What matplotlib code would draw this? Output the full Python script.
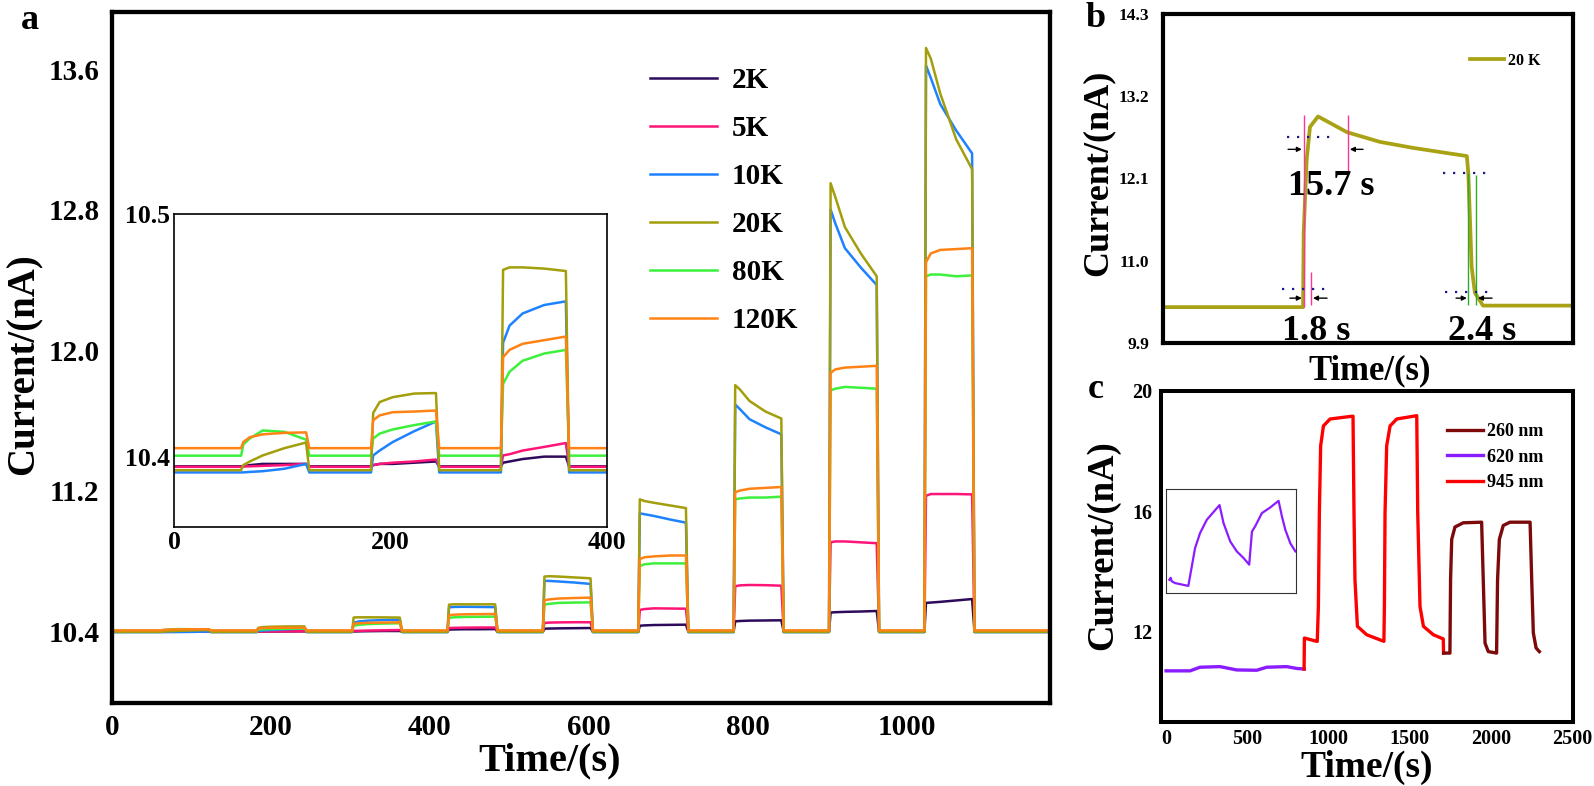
import matplotlib
matplotlib.use('Agg')
import matplotlib.pyplot as plt

plt.rcParams['font.family'] = ['Liberation Serif', 'DejaVu Serif']
plt.rcParams['font.weight'] = 'bold'
plt.rcParams['axes.labelweight'] = 'bold'

W, H = 1594, 786

# ---------------- panel a data ----------------
labels_a = ['2K', '5K', '10K', '20K', '80K', '120K']
colors_a = ['#2d0b5a', '#ff1478', '#1e82ff', '#a39e0c', '#3cf03c', '#ff8214']
t_on = [62, 182, 302, 422, 542, 662, 782, 902, 1022]
t_off = [122, 242, 362, 482, 602, 722, 842, 962, 1082]
t_last = 1180
sample_dt = [2, 8, 20, 40, 60]          # seconds after light on

base_2k, base_5k, base_10k = 10.396, 10.3958, 10.3935
base_20k, base_80k, base_120k = 10.3944, 10.4004, 10.4035

pulses_2k = [
    [10.396, 10.3965, 10.397, 10.397, 10.397],
    [10.3965, 10.397, 10.397, 10.3975, 10.398],
    [10.3975, 10.398, 10.399, 10.400, 10.400],
    [10.408, 10.409, 10.41, 10.41, 10.411],
    [10.413, 10.414, 10.415, 10.416, 10.417],
    [10.43, 10.432, 10.434, 10.435, 10.436],
    [10.455, 10.457, 10.459, 10.46, 10.461],
    [10.505, 10.507, 10.509, 10.511, 10.514],
    [10.56, 10.562, 10.566, 10.574, 10.582],
]
pulses_5k = [
    [10.396, 10.396, 10.3962, 10.3965, 10.397],
    [10.3965, 10.397, 10.3975, 10.398, 10.3988],
    [10.4005, 10.401, 10.4025, 10.404, 10.4056],
    [10.417, 10.418, 10.419, 10.42, 10.42],
    [10.446, 10.448, 10.449, 10.45, 10.45],
    [10.52, 10.525, 10.529, 10.528, 10.527],
    [10.655, 10.66, 10.662, 10.661, 10.658],
    [10.905, 10.91, 10.91, 10.905, 10.9],
    [11.17, 11.18, 11.18, 11.18, 11.178],
]
pulses_10k = [
    [10.3935, 10.3937, 10.394, 10.395, 10.397],
    [10.4005, 10.4025, 10.406, 10.4105, 10.4145],
    [10.447, 10.454, 10.459, 10.4625, 10.464],
    [10.535, 10.537, 10.538, 10.537, 10.536],
    [10.686, 10.685, 10.682, 10.676, 10.668],
    [11.07, 11.065, 11.055, 11.035, 11.017],
    [11.69, 11.663, 11.606, 11.56, 11.52],
    [12.8, 12.72, 12.58, 12.47, 12.37],
    [13.62, 13.55, 13.40, 13.25, 13.12],
]
pulses_20k = [
    [10.3965, 10.398, 10.4005, 10.4035, 10.4058],
    [10.418, 10.4225, 10.4245, 10.426, 10.4262],
    [10.477, 10.478, 10.478, 10.4775, 10.4765],
    [10.55, 10.552, 10.552, 10.552, 10.552],
    [10.71, 10.712, 10.71, 10.705, 10.7],
    [11.15, 11.14, 11.13, 11.115, 11.10],
    [11.8, 11.775, 11.71, 11.65, 11.61],
    [12.95, 12.87, 12.7, 12.55, 12.42],
    [13.72, 13.66, 13.46, 13.2, 13.03],
]
pulses_80k = [
    [10.405, 10.4075, 10.4108, 10.4102, 10.407],
    [10.4075, 10.4095, 10.4112, 10.413, 10.4145],
    [10.430, 10.435, 10.4395, 10.4425, 10.444],
    [10.475, 10.478, 10.48, 10.481, 10.482],
    [10.55, 10.555, 10.56, 10.562, 10.563],
    [10.77, 10.78, 10.785, 10.785, 10.785],
    [11.15, 11.155, 11.16, 11.16, 11.165],
    [11.77, 11.78, 11.79, 11.785, 11.78],
    [12.42, 12.43, 12.43, 12.42, 12.425],
]
pulses_120k = [
    [10.406, 10.408, 10.4092, 10.4098, 10.41],
    [10.415, 10.417, 10.4183, 10.4186, 10.419],
    [10.441, 10.444, 10.4465, 10.448, 10.4495],
    [10.49, 10.493, 10.495, 10.496, 10.497],
    [10.575, 10.58, 10.585, 10.588, 10.59],
    [10.81, 10.82, 10.825, 10.83, 10.83],
    [11.19, 11.2, 11.21, 11.215, 11.22],
    [11.87, 11.89, 11.9, 11.905, 11.91],
    [12.5, 12.55, 12.57, 12.575, 12.58],
]
a_xticks = [0, 200, 400, 600, 800, 1000]
a_yticks = [10.4, 11.2, 12.0, 12.8, 13.6]
ai_xticks = [0, 200, 400]
ai_yticks = [10.4, 10.5]

# ---------------- panel b data ----------------
b_t = [0, 46.7, 46.9, 47.9, 49.0, 51.7, 61.3, 72.3, 83.3, 94.7, 101.3, 101.8, 102.9, 104.0, 106.7, 136.7]
b_v = [10.38, 10.38, 11.37, 12.35, 12.79, 12.93, 12.72, 12.59, 12.51, 12.44, 12.40, 12.17, 10.92, 10.57, 10.40, 10.40]
b_yticks = [9.9, 11.0, 12.1, 13.2, 14.3]
b_pink_t = [47.0, 61.7, 49.3]
b_pink_lo = [10.38, 12.19, 10.41]
b_pink_hi = [12.95, 12.95, 10.85]
b_green_t = [101.7, 104.3]
b_green_lo = [10.41, 10.41]
b_green_hi = [12.17, 12.15]
b_dot_v = [12.65, 10.62, 12.17, 10.58]
b_dot_t0 = [41.3, 39.7, 93.3, 94.0]
b_dot_t1 = [58.0, 56.3, 110.0, 110.7]
b_arrow_v = [12.49, 12.49, 10.5, 10.5, 10.5, 10.5]
b_arrow_tail = [41.7, 66.7, 42.3, 54.7, 97.7, 109.7]
b_arrow_head = [46.3, 62.3, 46.3, 50.0, 101.3, 105.0]
b_text = ['15.7 s', '1.8 s', '2.4 s']
b_text_t = [56, 51, 106.3]
b_text_v = [11.88, 9.94, 9.94]

# ---------------- panel c data ----------------
c_620_t = [0, 148, 209, 332, 435, 558, 619, 742, 804, 849]
c_620_v = [10.7, 10.7, 10.82, 10.84, 10.73, 10.72, 10.82, 10.84, 10.78, 10.76]
c_945_t = [849, 851, 927, 930, 937, 943, 951, 968, 1009, 1142, 1150, 1156, 1162, 1177, 1234, 1316,
           1340, 1343, 1347, 1357, 1378, 1419, 1542, 1548, 1562, 1583, 1644, 1705, 1707]
c_945_v = [10.76, 11.79, 11.68, 11.68, 12.84, 15.96, 18.18, 18.84, 19.07, 19.16, 19.16, 15.96, 13.73,
           12.18, 11.9, 11.73, 11.68, 12.84, 15.96, 18.18, 18.84, 19.07, 19.18, 15.96, 12.84, 12.18,
           11.9, 11.76, 11.29]
c_260_t = [1707, 1746, 1750, 1757, 1777, 1828, 1941, 1951, 1962, 1982, 2033, 2039, 2050, 2074, 2115,
           2239, 2249, 2259, 2276, 2296]
c_260_v = [11.29, 11.29, 13.73, 15.07, 15.48, 15.62, 15.64, 13.73, 11.62, 11.34, 11.29, 13.73, 15.07,
           15.53, 15.64, 15.64, 13.73, 11.96, 11.46, 11.34]
ci_t = [22, 31, 37, 59, 146, 157, 190, 223, 267, 310, 350, 376, 420, 463, 507, 544, 562, 583, 627,
        682, 736, 758, 780, 813, 846]
ci_v = [10.688, 10.692, 10.685, 10.681, 10.675, 10.695, 10.755, 10.787, 10.815, 10.831, 10.846, 10.808,
        10.769, 10.748, 10.734, 10.72, 10.79, 10.801, 10.829, 10.841, 10.855, 10.822, 10.794, 10.765,
        10.748]
c_xticks = [0, 500, 1000, 1500, 2000, 2500]
c_yticks = [12, 16, 20]


def build_trace(base, pulses):
    t, v = [0], [base]
    for on, off, vals in zip(t_on, t_off, pulses):
        t += [on] + [on + d for d in sample_dt] + [off + 3]
        v += [base] + list(vals) + [base]
    t.append(t_last)
    v.append(base)
    return t, v


def rect(l, t, r, b):
    return [l / W, 1 - b / H, (r - l) / W, (b - t) / H]


fig = plt.figure(figsize=(W / 100, H / 100), dpi=100)

# ---------------- panel a ----------------
series = dict(zip(labels_a, [(base_2k, pulses_2k), (base_5k, pulses_5k), (base_10k, pulses_10k),
                             (base_20k, pulses_20k), (base_80k, pulses_80k), (base_120k, pulses_120k)]))
color_of = dict(zip(labels_a, colors_a))
draw_order = ['2K', '5K', '10K', '80K', '20K', '120K']

axa = fig.add_axes(rect(112, 12, 1050, 703))
axi = fig.add_axes(rect(174, 214, 607, 527))
handles = {}
for lab in draw_order:
    t, v = build_trace(*series[lab])
    ln, = axa.plot(t, v, color=color_of[lab], lw=1.8, label=lab)
    handles[lab] = ln
    axi.plot(t, v, color=color_of[lab], lw=1.8)

axa.set_xlim(0, 1180)
axa.set_ylim(9.99, 13.925)
axa.set_xticks(a_xticks)
axa.set_yticks(a_yticks)
axa.set_yticklabels([f'{y:.1f}' for y in a_yticks])
axa.tick_params(axis='both', length=0, labelsize=21)
axa.tick_params(axis='y', pad=9)
axa.tick_params(axis='x', pad=8)
for s in axa.spines.values():
    s.set_linewidth(3.1)
axa.set_xlabel('Time/(s)', fontsize=29)
axa.xaxis.set_label_coords(0.467, -0.057)
axa.set_ylabel('Current/(nA)', fontsize=28)
axa.yaxis.set_label_coords(-0.074, 0.49)
axa.legend([handles[l] for l in labels_a], labels_a, loc='upper left',
           bbox_to_anchor=(0.5736, 0.920), frameon=False, fontsize=21,
           handlelength=2.3, handletextpad=0.5, labelspacing=0.72,
           borderpad=0, borderaxespad=0)

axi.set_xlim(0, 400)
axi.set_ylim(10.371, 10.5)
axi.set_xticks(ai_xticks)
axi.set_yticks(ai_yticks)
axi.set_yticklabels([f'{y:.1f}' for y in ai_yticks])
axi.tick_params(axis='both', length=0, labelsize=18.5, pad=3)
for s in axi.spines.values():
    s.set_linewidth(1.2)

# ---------------- panel b ----------------
axb = fig.add_axes(rect(1163, 14, 1573, 343))
axb.plot(b_t, b_v, color='#a8a214', lw=2.7, label='20 K')
axb.vlines(b_pink_t, b_pink_lo, b_pink_hi, color='#ff3399', lw=1.0, zorder=3)
axb.vlines(b_green_t, b_green_lo, b_green_hi, color='#2ea82e', lw=1.0, zorder=3)
axb.hlines(b_dot_v, b_dot_t0, b_dot_t1, color='#1a1a8c', lw=1.6, linestyles=[(0, (1, 3.5))], zorder=3)
for v, t0, t1 in zip(b_arrow_v, b_arrow_tail, b_arrow_head):
    axb.annotate('', xy=(t1, v), xytext=(t0, v),
                 arrowprops=dict(arrowstyle='-|>', color='black', lw=1.0, mutation_scale=7,
                                 shrinkA=0, shrinkB=0))
for txt, t, v in zip(b_text, b_text_t, b_text_v):
    axb.text(t, v, txt, fontsize=26, ha='center', va='baseline', zorder=5)
axb.set_xlim(0, 136.7)
axb.set_ylim(9.9, 14.3)
axb.set_xticks([])
axb.set_yticks(b_yticks)
axb.set_yticklabels([f'{y:.1f}' for y in b_yticks])
axb.tick_params(axis='both', length=0, labelsize=12.5, pad=10)
for s in axb.spines.values():
    s.set_linewidth(3.0)
axb.set_xlabel('Time/(s)', fontsize=25)
axb.xaxis.set_label_coords(0.505, -0.035)
axb.set_ylabel('Current/(nA)', fontsize=26)
axb.yaxis.set_label_coords(-0.117, 0.517)
axb.legend(loc='upper left', bbox_to_anchor=(0.749, 0.882), frameon=False, fontsize=11.5,
           handlelength=2.1, handletextpad=0.3, borderpad=0, borderaxespad=0)

# ---------------- panel c ----------------
axc = fig.add_axes(rect(1161, 391, 1573, 722))
l620, = axc.plot(c_620_t, c_620_v, color='#8a1cff', lw=2.4, label='620 nm')
l945, = axc.plot(c_945_t, c_945_v, color='#ff0000', lw=2.4, label='945 nm')
l260, = axc.plot(c_260_t, c_260_v, color='#7d0a0a', lw=2.4, label='260 nm')
axc.set_xlim(-31, 2503)
axc.set_ylim(9, 20)
axc.set_xticks(c_xticks)
axc.set_yticks(c_yticks)
axc.tick_params(axis='both', length=0, labelsize=14.5)
axc.tick_params(axis='y', pad=6)
axc.tick_params(axis='x', pad=5)
for s in axc.spines.values():
    s.set_linewidth(2.9)
axc.set_xlabel('Time/(s)', fontsize=27)
axc.xaxis.set_label_coords(0.5, -0.085)
axc.set_ylabel('Current/(nA)', fontsize=26.5)
axc.yaxis.set_label_coords(-0.1, 0.535)
axc.legend([l260, l620, l945], ['260 nm', '620 nm', '945 nm'], loc='upper left',
           bbox_to_anchor=(0.694, 0.903), frameon=False, fontsize=13,
           handlelength=2.0, handletextpad=0.2, labelspacing=0.47, borderpad=0, borderaxespad=0)

axci = fig.add_axes(rect(1166, 489, 1296, 593))
axci.plot(ci_t, ci_v, color='#8a1cff', lw=1.6)
axci.set_xlim(0, 850)
axci.set_ylim(10.66, 10.88)
axci.set_xticks([])
axci.set_yticks([])
for s in axci.spines.values():
    s.set_linewidth(0.8)
    s.set_color('#333333')

# panel letters
fig.text(30 / W, 1 - 29 / H, 'a', fontsize=26, ha='center', va='baseline')
fig.text(1096 / W, 1 - 27 / H, 'b', fontsize=26, ha='center', va='baseline')
fig.text(1096 / W, 1 - 398 / H, 'c', fontsize=26, ha='center', va='baseline')

fig.savefig('out.png', dpi=100)
